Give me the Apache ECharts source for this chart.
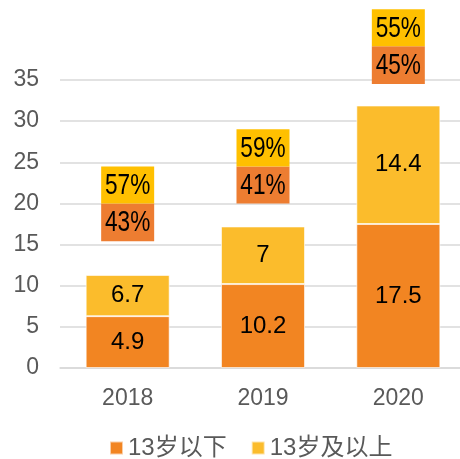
<!DOCTYPE html>
<html>
<head>
<meta charset="utf-8">
<script src="https://cdn.jsdelivr.net/npm/echarts@6/dist/echarts.min.js"></script>
<style>
html, body { margin: 0; padding: 0; background: #fff; }
#chart { width: 460px; height: 459px; }
</style>
</head>
<body>
<div id="chart"></div>
<script>
// 年份
var years = ['2018', '2019', '2020'];
// 柱子高度与标注文字
var under13 = [6.3, 10.2, 17.5];
var over13 = [5.0, 7.0, 14.4];
var under13Labels = ['4.9', '10.2', '17.5'];
var over13Labels = ['6.7', '7', '14.4'];
// 占比方块：底部位置、高度、文字
var boxBase = [15.4, 20.0, 34.5];
var boxUnder = [4.6, 4.5, 4.6];
var boxOver = [4.5, 4.5, 4.5];
var boxUnderLabels = ['43%', '41%', '45%'];
var boxOverLabels = ['57%', '59%', '55%'];
var yTicks = [0, 5, 10, 15, 20, 25, 30, 35];

var FONT = 'Liberation Sans, Arial, Noto Sans CJK SC, sans-serif';

var chart = echarts.init(document.getElementById('chart'));

var barLabel = function(texts) {
    return {
        show : true,
        position : 'inside',
        color : '#000',
        fontSize : 24,
        fontFamily : FONT,
        formatter : function(p) {
            return texts[p.dataIndex];
        }
    };
};

// 占比文字：窄体，用 custom 系列压扁
var boxTextData = [];
for (var i = 0; i < years.length; i++) {
    boxTextData.push([i, boxBase[i] + boxUnder[i] / 2, boxUnderLabels[i]]);
    boxTextData.push([i, boxBase[i] + boxUnder[i] + boxOver[i] / 2, boxOverLabels[i]]);
}

var option = {
    animation : false,
    textStyle : { fontFamily : FONT },
    grid : {
        left : 60,
        top : 80,
        right : -6,
        height : 288,
        outerBoundsMode : 'none',
        containLabel : false
    },
    legend : {
        data : ['13岁以下', '13岁及以上'],
        top : 436,
        left : 109,
        padding : 0,
        icon : 'rect',
        itemWidth : 13,
        itemHeight : 13,
        itemGap : 24,
        textStyle : {
            fontSize : 24,
            color : '#595959',
            fontFamily : FONT
        }
    },
    xAxis : [ {
        type : 'category',
        data : years,
        axisLine : { lineStyle : { color : '#D9D9D9', width : 1.5 } },
        axisTick : { show : false },
        axisLabel : { color : '#595959', fontSize : 23, margin : 19 }
    }, {
        type : 'category',
        data : years,
        show : false
    } ],
    yAxis : [ {
        type : 'value',
        min : yTicks[0],
        max : yTicks[yTicks.length - 1],
        interval : 5,
        axisLine : { show : false },
        axisTick : { show : false },
        splitLine : { lineStyle : { color : '#D9D9D9', width : 1.5 } },
        axisLabel : { color : '#595959', fontSize : 23, margin : 21 }
    } ],
    series : [ {
        name : '13岁以下',
        type : 'bar',
        stack : 'total',
        barWidth : 84,
        data : under13,
        itemStyle : { color : '#F28522', borderColor : 'rgba(255,255,255,0.6)', borderWidth : 1 },
        label : barLabel(under13Labels)
    }, {
        name : '13岁及以上',
        type : 'bar',
        stack : 'total',
        barWidth : 84,
        data : over13,
        itemStyle : { color : '#FBBC2C', borderColor : 'rgba(255,255,255,0.6)', borderWidth : 1 },
        label : barLabel(over13Labels)
    }, {
        name : 'base',
        type : 'bar',
        xAxisIndex : 1,
        stack : 'box',
        barWidth : 53,
        silent : true,
        clip : false,
        data : boxBase,
        itemStyle : { color : 'rgba(0,0,0,0)' }
    }, {
        name : '占比13岁以下',
        type : 'bar',
        xAxisIndex : 1,
        stack : 'box',
        barWidth : 53,
        clip : false,
        data : boxUnder,
        itemStyle : { color : '#ED7D31' }
    }, {
        name : '占比13岁及以上',
        type : 'bar',
        xAxisIndex : 1,
        stack : 'box',
        barWidth : 53,
        clip : false,
        data : boxOver,
        itemStyle : { color : '#FFC000' }
    }, {
        name : '占比文字',
        type : 'custom',
        xAxisIndex : 1,
        clip : false,
        z : 10,
        data : boxTextData,
        renderItem : function(params, api) {
            var pt = api.coord([api.value(0), api.value(1)]);
            return {
                type : 'text',
                x : pt[0],
                y : pt[1] + 1,
                scaleX : 0.78,
                z2 : 100,
                style : {
                    text : boxTextData[params.dataIndex][2],
                    fontSize : 29,
                    fontFamily : FONT,
                    fill : '#000',
                    align : 'center',
                    verticalAlign : 'middle'
                }
            };
        }
    } ]
};
chart.setOption(option);
</script>
</body>
</html>
